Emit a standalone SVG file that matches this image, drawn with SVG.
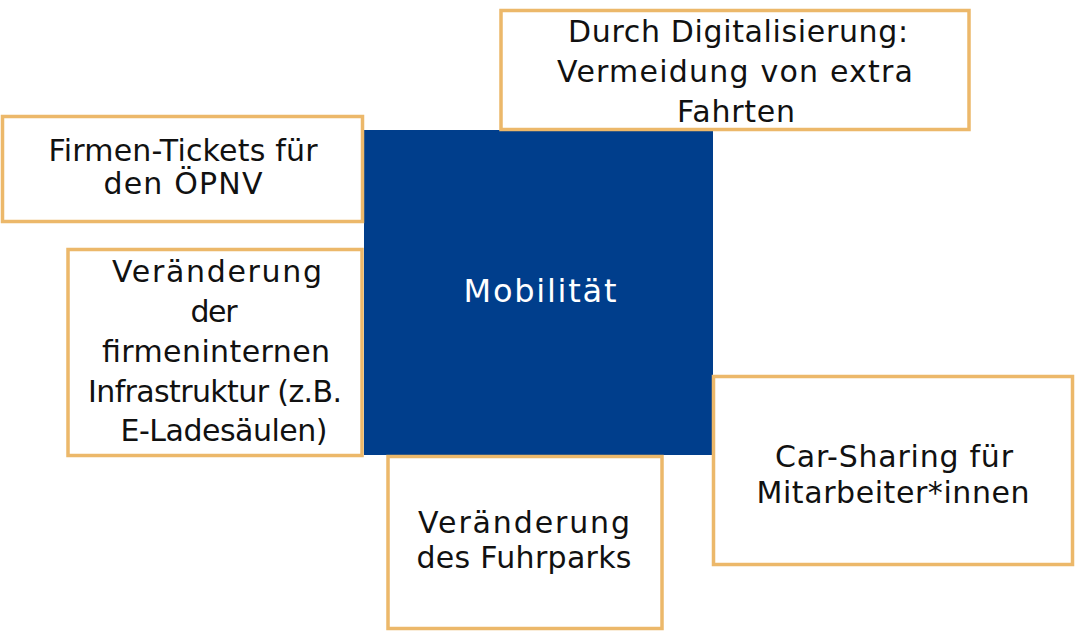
<svg xmlns="http://www.w3.org/2000/svg" width="1076" height="631" viewBox="0 0 1076 631">
<style>
.box{fill:#ffffff;stroke:#ECB86A;stroke-width:3.5}
.t{font-family:"DejaVu Sans","Liberation Sans",sans-serif;font-size:30px;fill:#111111;text-anchor:middle}
.w{font-family:"DejaVu Sans","Liberation Sans",sans-serif;font-size:32px;fill:#ffffff;text-anchor:middle}
</style>
<rect width="1076" height="631" fill="#ffffff"/>
<g id="connectors"></g>
<g id="center">
<rect x="364" y="130" width="349" height="325" fill="#003E8C"/>
<text class="w" x="540" y="302" textLength="153" lengthAdjust="spacing">Mobilität</text>
</g>
<g id="digital">
<rect class="box" x="501" y="10.5" width="468" height="119"/>
<text class="t" x="738" y="42" textLength="340" lengthAdjust="spacing">Durch Digitalisierung:</text>
<text class="t" x="735" y="82" textLength="356" lengthAdjust="spacing">Vermeidung von extra</text>
<text class="t" x="736" y="122" textLength="118" lengthAdjust="spacing">Fahrten</text>
</g>
<g id="tickets">
<rect class="box" x="2.5" y="116.5" width="360" height="105"/>
<text class="t" x="183" y="161" textLength="269" lengthAdjust="spacing">Firmen-Tickets für</text>
<text class="t" x="183" y="194" textLength="159" lengthAdjust="spacing">den ÖPNV</text>
</g>
<g id="infrastruktur">
<rect class="box" x="68" y="249.5" width="294" height="206"/>
<text class="t" x="217" y="282" textLength="210" lengthAdjust="spacing">Veränderung</text>
<text class="t" x="214" y="322" textLength="47" lengthAdjust="spacing">der</text>
<text class="t" x="216" y="362" textLength="228" lengthAdjust="spacing">firmeninternen</text>
<text class="t" x="215" y="402" textLength="254" lengthAdjust="spacing">Infrastruktur (z.B.</text>
<text class="t" x="224" y="441" textLength="207" lengthAdjust="spacing">E-Ladesäulen)</text>
</g>
<g id="carsharing">
<rect class="box" x="713.5" y="376.5" width="359" height="188"/>
<text class="t" x="894" y="467" textLength="238" lengthAdjust="spacing">Car-Sharing für</text>
<text class="t" x="893" y="503" textLength="273" lengthAdjust="spacing">Mitarbeiter*innen</text>
</g>
<g id="fuhrpark">
<rect class="box" x="388" y="456.5" width="274" height="172"/>
<text class="t" x="524" y="533" textLength="212" lengthAdjust="spacing">Veränderung</text>
<text class="t" x="524" y="568" textLength="215" lengthAdjust="spacing">des Fuhrparks</text>
</g>
</svg>
